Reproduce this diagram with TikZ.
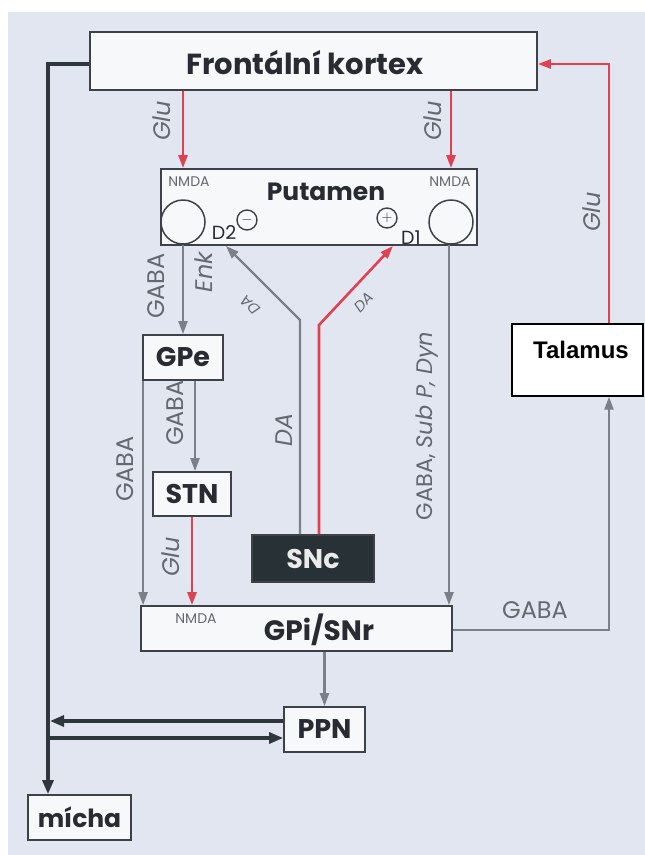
\documentclass[tikz,border=0pt]{standalone}
\usepackage{fontspec}
\setmainfont{Poppins}
\newfontfamily\arialfont{Liberation Sans}
\usepackage{xcolor}
\usetikzlibrary{arrows.meta,positioning}

\definecolor{panel}{RGB}{226,230,240}
\definecolor{boxfill}{RGB}{247,248,250}
\definecolor{boxline}{RGB}{62,66,72}
\definecolor{glured}{RGB}{222,66,80}
\definecolor{gabagray}{RGB}{122,128,135}
\definecolor{darkpath}{RGB}{45,55,60}
\definecolor{txtgray}{RGB}{100,105,112}
\definecolor{txtdark}{RGB}{40,44,50}

\begin{document}
\begin{tikzpicture}[x=1pt, y=-1pt,
    area/.style={draw=boxline, line width=1.8pt, fill=boxfill, inner sep=0pt},
    areatext/.style={text=txtdark, inner sep=0pt,
                     font=\bfseries\fontsize{27}{29}\selectfont},
    receptor/.style={circle, draw=boxline, line width=1.5pt, inner sep=0pt,
                     minimum size=44pt},
    sign/.style={circle, draw=boxline, line width=1.4pt, inner sep=0pt,
                 minimum size=20pt, text=txtdark, font=\bfseries\fontsize{15}{15}\selectfont},
    redarr/.style={glured, line width=2.6pt, -{Triangle[length=13pt,width=9pt]}},
    grayarr/.style={gabagray, line width=2.2pt, -{Triangle[length=13pt,width=9pt]}},
    darkarr/.style={darkpath, line width=3.2pt, -{Triangle[length=14pt,width=11pt]}},
    lab/.style={text=txtgray, inner sep=0pt, font=\fontsize{24}{26}\selectfont},
    itlab/.style={lab, font=\itshape\fontsize{24}{26}\selectfont},
    small/.style={text=txtgray, inner sep=0pt, font=\fontsize{14}{15}\selectfont}
]

% panel
\useasboundingbox (0,0) rectangle (645,855);
\fill[panel] (8,12) rectangle (645,855);

% boxes
\node[area, minimum width=447pt, minimum height=58pt] (frontal) at (313.5,61) {};
\node[areatext, font=\bfseries\fontsize{29}{31}\selectfont] (frontaltext) at (305,63) {Frontální kortex};

\node[area, minimum width=316pt, minimum height=76pt] (putamen) at (319,207) {};
\node[areatext, font=\bfseries\fontsize{25}{27}\selectfont] (putamentext) at (326,192) {Putamen};
\node[receptor] (d2rec) at (183,222) {};
\node[receptor] (d1rec) at (451,222) {};
\node[small] (nmdaleft) at (189,182) {NMDA};
\node[small] (nmdaright) at (450,182) {NMDA};
\node[sign] (minus) at (247,220) {$-$};
\node[sign] (plus) at (387,218) {$+$};
\node[text=txtdark, inner sep=0pt, font=\fontsize{19}{19}\selectfont] (d2) at (224,233) {D2};
\node[text=txtdark, inner sep=0pt, font=\fontsize{19}{19}\selectfont] (d1) at (411,238) {D1};

\node[area, minimum width=80pt, minimum height=45pt, areatext] (gpe) at (183,357.5) {GPe};
\node[area, minimum width=78pt, minimum height=44pt, areatext] (stn) at (192,494) {STN};
\node[area, fill=darkpath!90!black, minimum width=122pt, minimum height=47pt,
      areatext, text=white!92!black] (snc) at (313,558.5) {SNc};

\node[area, minimum width=311pt, minimum height=45pt] (gpi) at (296.5,628.5) {};
\node[areatext, font=\bfseries\fontsize{28}{30}\selectfont] (gpitext) at (319,630) {GPi/SNr};
\node[small] (nmdagpi) at (196,619) {NMDA};

\node[area, minimum width=81pt, minimum height=45pt, areatext] (ppn) at (324.5,729.5) {PPN};
\node[area, minimum width=103pt, minimum height=45pt, areatext,
      font=\bfseries\fontsize{25}{27}\selectfont] (micha) at (79.5,817.5) {mícha};

\node[draw=black, line width=1.4pt, fill=white, minimum width=131pt,
      minimum height=72pt] (talamus) at (577.5,360) {};
\node[inner sep=0pt, font=\arialfont\bfseries\fontsize{24}{26}\selectfont]
      (talamustext) at (581,350) {Talamus};

% cortex -> putamen
\draw[redarr] (d2rec |- frontal.south) -- (d2rec |- putamen.north);
\draw[redarr] (d1rec |- frontal.south) -- (d1rec |- putamen.north);
\node[itlab, rotate=90] at (162,121) {Glu};
\node[itlab, rotate=90] at (433,121) {Glu};

% thalamus -> cortex
\coordinate (glucorner) at (609,64);
\draw[redarr] (talamus.north -| glucorner) -- (glucorner) -- (frontal.east |- glucorner);
\node[itlab, rotate=90] at (592,212) {Glu};

% putamen -> GPe -> STN
\draw[grayarr] (d2rec.south) -- (gpe.north);
\node[lab, rotate=90] at (156,286) {GABA};
\node[itlab, rotate=90] at (204,272) {Enk};
\draw[grayarr] ([xshift=12pt]gpe.south) -- ([xshift=12pt]gpe.south |- stn.north);
\node[lab, rotate=90] at (175,413) {GABA};

% into GPi/SNr
\draw[grayarr] ([xshift=1pt]gpe.south west) -- ([xshift=1pt]gpe.south west |- gpi.north);
\node[lab, rotate=90] at (125,469) {GABA};
\draw[redarr] (stn.south) -- (stn.south |- gpi.north);
\node[itlab, rotate=90] at (171,557) {Glu};
\draw[grayarr] ([xshift=-2pt]d1rec.south) -- ([xshift=-2pt]d1rec.south |- gpi.north);
\node[lab, rotate=90, font=\fontsize{22.5}{24}\selectfont] at (427,426) {GABA, \textit{Sub P, Dyn}};

% SNc -> putamen
\coordinate (dabend) at (300,320);
\coordinate (d2tip) at (226,246);
\draw[grayarr] (snc.north -| dabend) -- (dabend) -- (d2tip);
\node[itlab, rotate=90] at (284,430) {DA};
\node[small, font=\itshape\fontsize{15}{15}\selectfont, rotate=135] at (250,305) {DA};
\coordinate (dapbend) at (319,325);
\coordinate (d1tip) at (393,246);
\draw[redarr] (snc.north -| dapbend) -- (dapbend) -- (d1tip);
\node[small, font=\itshape\fontsize{15}{15}\selectfont, rotate=45] at (364,302) {DA};

% GPi/SNr -> thalamus, PPN
\coordinate (gabacorner) at (609,630);
\draw[grayarr] (gpi.east |- gabacorner) -- (gabacorner) -- (talamus.south -| gabacorner);
\node[lab] at (535,610) {GABA};
\draw[grayarr] (gpi.south -| ppn) -- (ppn.north);

% descending pathway
\coordinate (spine) at (48,64);
\draw[darkarr] (frontal.west |- spine) -- (spine) -- (spine |- micha.north);
\coordinate (ppnout) at ([yshift=8.5pt]ppn.west);
\coordinate (ppnin) at ([yshift=-8.5pt]ppn.west);
\draw[darkarr, shorten >=2pt] (ppnout) -- (ppnout -| spine);
\draw[darkarr] (ppnin -| spine) -- (ppnin);

\end{tikzpicture}
\end{document}
